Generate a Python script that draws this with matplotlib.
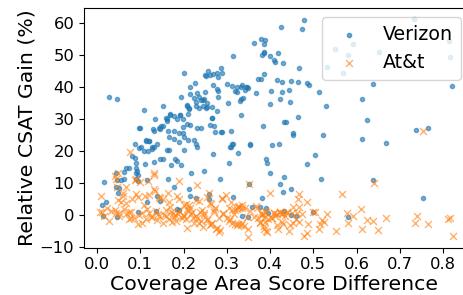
import matplotlib
matplotlib.use("Agg")
import matplotlib.pyplot as plt

# Verizon: (coverage area score difference, relative CSAT gain %)
verizon_x = [
    0.479, 0.474, 0.425, 0.733, 0.583, 0.379, 0.389, 0.363, 0.385, 0.387,
    0.385, 0.418, 0.381, 0.315, 0.400, 0.409, 0.412, 0.430, 0.466, 0.287,
    0.256, 0.289, 0.269, 0.277, 0.201, 0.250, 0.262, 0.279, 0.379, 0.386,
    0.416, 0.427, 0.449, 0.465, 0.486, 0.489, 0.512, 0.637, 0.821, 0.226,
    0.215, 0.301, 0.312, 0.323, 0.332, 0.346, 0.343, 0.277, 0.279, 0.319,
    0.323, 0.368, 0.403, 0.443, 0.428, 0.195, 0.225, 0.236, 0.241, 0.229,
    0.255, 0.248, 0.279, 0.302, 0.332, 0.330, 0.400, 0.422, 0.446, 0.529,
    0.612, 0.229, 0.236, 0.213, 0.208, 0.266, 0.254, 0.277, 0.432, 0.436,
    0.464, 0.210, 0.265, 0.623, 0.192, 0.215, 0.231, 0.241, 0.270, 0.332,
    0.384, 0.287, 0.310, 0.454, 0.454, 0.522, 0.737, 0.764, 0.612, 0.667,
    0.404, 0.421, 0.353, 0.307, 0.313, 0.229, 0.231,
    0.027, 0.047, 0.109, 0.153, 0.133, 0.100, 0.129, 0.215, 0.209, 0.213,
    0.232, 0.246, 0.249, 0.253, 0.245, 0.251, 0.269, 0.266, 0.261, 0.168,
    0.177, 0.162, 0.162, 0.184, 0.191, 0.198, 0.209, 0.199, 0.152, 0.146,
    0.098, 0.088, 0.102, 0.113, 0.120, 0.128, 0.138, 0.143, 0.149, 0.160,
    0.169, 0.336, 0.337, 0.344, 0.350, 0.373,
    0.132, 0.163, 0.178, 0.189, 0.199, 0.167, 0.177, 0.190, 0.200, 0.211,
    0.225, 0.114, 0.121, 0.098, 0.109, 0.117, 0.128, 0.132, 0.162, 0.167,
    0.082, 0.088, 0.091, 0.091, 0.092, 0.091, 0.067, 0.073, 0.063, 0.112,
    0.132, 0.146, 0.152, 0.172, 0.180, 0.186, 0.194, 0.202, 0.017, 0.045,
    0.047, 0.055, 0.062, 0.045, 0.052, 0.048, 0.090, 0.094, 0.115, 0.095,
    0.165, 0.179, 0.146, 0.213, 0.217, 0.248, 0.215, 0.229, 0.258, 0.011,
    0.020, 0.186, 0.014, 0.046, 0.094, 0.115, 0.136, 0.138, 0.189, 0.260,
    0.285, 0.304, 0.325, 0.314, 0.352, 0.336, 0.349, 0.381, 0.391, 0.394,
    0.400, 0.422, 0.432, 0.431, 0.449, 0.432, 0.448, 0.486, 0.504, 0.518,
    0.500, 0.579, 0.639, 0.754, 0.358, 0.395,
    0.272, 0.289, 0.314, 0.309, 0.268, 0.354, 0.377, 0.391, 0.460,
    0.550, 0.591, 0.581, 0.532, 0.568, 0.651, 0.814, 0.816,
]
verizon_y = [
    61.0, 57.9, 58.6, 61.3, 56.3, 54.9, 54.5, 53.8, 53.5, 50.9,
    50.4, 50.4, 49.9, 49.6, 49.7, 48.3, 47.8, 47.3, 45.8, 45.7,
    44.9, 44.4, 44.0, 44.2, 44.4, 43.6, 43.6, 42.9, 42.3, 44.0,
    42.1, 41.4, 41.8, 41.6, 41.1, 40.6, 38.2, 40.8, 40.2, 41.1,
    39.8, 40.7, 40.2, 39.8, 39.8, 39.8, 39.0, 39.2, 38.8, 38.8,
    38.2, 38.1, 38.8, 39.0, 38.2, 36.9, 36.4, 36.7, 35.8, 35.3,
    34.8, 36.3, 36.9, 34.8, 36.1, 35.6, 34.6, 36.3, 35.3, 34.0,
    36.3, 33.9, 33.3, 33.5, 34.1, 33.6, 33.6, 32.5, 28.9, 28.9,
    30.6, 31.4, 30.1, 29.7, 31.2, 28.1, 27.2, 27.0, 27.8, 31.2,
    27.7, 25.9, 26.3, 25.6, 24.9, 25.0, 26.4, 27.1, 23.7, 22.5,
    21.8, 22.1, 22.0, 21.3, 22.1, 22.1, 21.3,
    36.9, 36.1, 32.6, 34.1, 29.8, 27.2, 26.7, 37.8, 34.2, 33.1,
    38.1, 35.8, 38.3, 33.3, 33.9, 43.3, 40.5, 30.2, 27.9, 31.6,
    30.7, 29.9, 29.2, 29.9, 31.1, 29.9, 28.4, 27.3, 27.7, 26.9,
    27.1, 22.1, 21.3, 23.1, 23.1, 21.3, 22.1, 27.0, 27.6, 30.3,
    31.1, 40.4, 36.6, 40.0, 39.5, 42.4,
    26.2, 26.3, 26.3, 25.6, 25.6, 24.3, 23.8, 22.7, 24.3, 23.5,
    23.3, 23.2, 22.9, 20.9, 19.9, 19.9, 20.4, 21.2, 20.1, 20.1,
    18.3, 17.8, 16.2, 14.7, 13.7, 13.1, 14.7, 14.7, 13.4, 15.7,
    16.6, 17.3, 17.3, 15.5, 17.3, 16.8, 15.5, 20.1, 10.3, 13.1,
    10.7, 10.8, 11.1, 8.8, 8.2, 6.9, 11.1, 10.5, 10.7, 12.3,
    11.3, 8.8, 4.2, 8.1, 12.9, 13.7, 5.8, 5.3, 6.6, 2.9,
    4.0, 1.9, -0.4, -0.7, 0.9, 4.1, 1.2, 5.9, 1.4, 4.8,
    11.2, 16.3, 19.4, 5.5, 9.7, -0.4, -0.6, 5.3, 17.4, 16.3,
    12.9, 9.5, 11.9, 7.0, 7.9, 1.1, -0.1, 15.7, 18.6, 11.2,
    1.0, -0.6, 11.0, 5.1, 2.5, 0.6,
    25.9, 25.9, 22.1, 21.2, 18.9, 21.9, 2.3, 2.1, -0.4,
    51.7, 53.2, 49.8, 46.2, 44.3, 50.8, 54.2, 49.4,
]

# At&t
att_x = [
    0.008, 0.010, 0.011, 0.017, 0.027, 0.041, 0.042, 0.048, 0.045, 0.046,
    0.048, 0.055, 0.044, 0.050, 0.051, 0.061, 0.063, 0.067, 0.068, 0.068,
    0.073, 0.075, 0.077, 0.078, 0.079, 0.080, 0.086, 0.088, 0.090, 0.090,
    0.094, 0.094, 0.098, 0.060, 0.033, 0.022,
    0.100, 0.104, 0.105, 0.109, 0.112, 0.113, 0.119, 0.121, 0.121, 0.125,
    0.128, 0.131, 0.131, 0.132, 0.135, 0.136, 0.139, 0.144, 0.144, 0.146,
    0.152, 0.152, 0.154, 0.159, 0.165, 0.167, 0.167, 0.168, 0.173, 0.175,
    0.181, 0.182, 0.185, 0.190, 0.190, 0.190, 0.196, 0.198, 0.170, 0.178,
    0.160, 0.188, 0.115, 0.141,
    0.200, 0.205, 0.205, 0.207, 0.209, 0.210, 0.213, 0.215, 0.217, 0.223,
    0.225, 0.229, 0.231, 0.232, 0.235, 0.236, 0.239, 0.240, 0.245, 0.248,
    0.248, 0.254, 0.255, 0.255, 0.258, 0.262, 0.262, 0.263, 0.263, 0.266,
    0.270, 0.270, 0.273, 0.276, 0.277, 0.281, 0.283, 0.285, 0.289, 0.289,
    0.292, 0.292, 0.299, 0.300, 0.219, 0.228, 0.243, 0.202,
    0.304, 0.306, 0.308, 0.309, 0.312, 0.312, 0.316, 0.319, 0.319, 0.323,
    0.323, 0.325, 0.327, 0.327, 0.329, 0.333, 0.335, 0.335, 0.335, 0.339,
    0.343, 0.346, 0.348, 0.350, 0.352, 0.354, 0.362, 0.368, 0.369, 0.373,
    0.376, 0.377, 0.381, 0.383, 0.385, 0.385, 0.389, 0.389, 0.391, 0.391,
    0.393, 0.396, 0.380, 0.387,
    0.400, 0.402, 0.404, 0.408, 0.409, 0.416, 0.416, 0.419, 0.422, 0.423,
    0.427, 0.431, 0.431, 0.435, 0.439, 0.440, 0.443, 0.446, 0.450, 0.453,
    0.454, 0.460, 0.462, 0.464, 0.466, 0.466, 0.467, 0.473, 0.479, 0.486,
    0.486, 0.487, 0.500, 0.412, 0.426,
    0.503, 0.512, 0.516, 0.520, 0.525, 0.531, 0.552, 0.567, 0.577, 0.581,
    0.591, 0.611, 0.612, 0.624, 0.637, 0.640, 0.650, 0.668, 0.735, 0.739,
    0.754, 0.764, 0.812, 0.816, 0.822,
]
att_y = [
    0.7, 5.8, 0.8, -0.4, -1.9, 1.5, 12.2, 13.1, 11.1, 8.8,
    4.7, 4.0, 0.6, 0.4, -0.4, 6.7, 1.9, 0.1, 3.8, 8.6,
    0.9, -1.4, 19.5, 0.8, -1.1, 5.0, -0.9, 10.8, 11.1, 6.4,
    5.5, -3.0, -0.2, 5.8, 1.2, 2.0,
    10.3, 0.6, -2.5, 3.0, 5.8, -1.4, 10.6, 6.1, 0.6, -0.6,
    -0.6, 13.1, 12.3, 7.9, 7.5, 1.2, -1.7, 5.5, -0.4, 5.1,
    4.8, -2.5, -0.1, -0.4, 6.9, 4.0, -1.2, 2.5, -2.2, 0.4,
    -0.1, -2.0, 5.7, 10.6, 4.8, 1.2, -1.1, -0.2, 1.0, -0.8,
    1.5, 0.3, 1.8, 0.2,
    3.0, 3.5, -1.2, -4.1, 1.7, 1.2, 2.9, 2.0, 0.1, -1.1,
    -2.5, 4.6, 9.3, -0.9, -2.5, 4.3, 0.9, -2.0, -3.7, 0.4,
    -0.1, -1.7, 5.5, -1.4, 6.7, -3.2, 3.8, 3.3, -3.0, -2.5,
    1.5, 0.8, 2.2, -4.5, -4.1, -5.5, -1.1, -4.8, 4.8, 5.3,
    0.4, 0.1, 6.1, -0.9, 0.7, -0.3, 1.4, -0.5,
    -2.0, 2.0, -1.4, 4.1, -2.7, 1.5, 0.1, 1.5, -2.8, 1.7,
    -3.3, 2.5, 2.4, -3.0, 2.7, -3.2, 2.9, 2.2, -2.5, -3.5,
    2.0, -0.6, -4.6, -7.1, 9.5, 1.2, -0.6, 2.7, 2.0, -0.9,
    -2.2, -2.5, -0.1, 0.1, -4.6, -3.5, -2.2, 1.2, 0.9, -5.1,
    -5.3, -1.4, 0.5, -1.0,
    6.7, -1.1, -0.9, 0.6, 0.4, -3.2, 0.1, -4.6, 0.9, 0.8,
    -2.2, -3.0, 0.4, -0.3, 0.8, 0.6, -5.1, -3.2, 0.4, -2.5,
    2.5, -1.4, 0.4, 5.0, 6.6, 2.4, -2.2, 0.1, -6.6, 4.1,
    -5.8, -2.8, 0.9, -0.5, 0.2,
    0.9, -4.6, -2.8, -1.7, -2.2, 0.1, -5.1, 6.5, 0.5, -2.5,
    -0.4, 1.9, -4.5, -1.8, -2.0, 10.0, -4.8, -1.0, -2.7, -0.4,
    26.1, -2.8, -1.3, -0.9, -6.6,
]

fig = plt.figure(figsize=(4.63, 2.95), dpi=100)
ax = fig.add_axes([84 / 463, 1 - 247.7 / 295, 380.8 / 463, 239.7 / 295])

ax.scatter(verizon_x, verizon_y, s=9, marker="o", color="tab:blue",
           alpha=0.6, label="Verizon")
ax.scatter(att_x, att_y, s=25, marker="x", color="tab:orange",
           alpha=0.6, linewidths=1.0, label="At&t")

ax.set_xlim(-0.03, 0.85)
ax.set_ylim(-10.3, 64.6)
ax.set_xticks([0.0, 0.1, 0.2, 0.3, 0.4, 0.5, 0.6, 0.7, 0.8])
ax.set_yticks([-10, 0, 10, 20, 30, 40, 50, 60])
ax.tick_params(labelsize=11.8)
ax.set_xlabel("Coverage Area Score Difference", fontsize=14.7, labelpad=2)
ax.set_ylabel("Relative CSAT Gain (%)", fontsize=14.7, labelpad=2)

ax.legend(loc="upper right", fontsize=13.7, borderaxespad=0,
          bbox_to_anchor=(461 / 463, 1 - 17 / 295),
          bbox_transform=fig.transFigure)

fig.savefig("out.png", dpi=100)
